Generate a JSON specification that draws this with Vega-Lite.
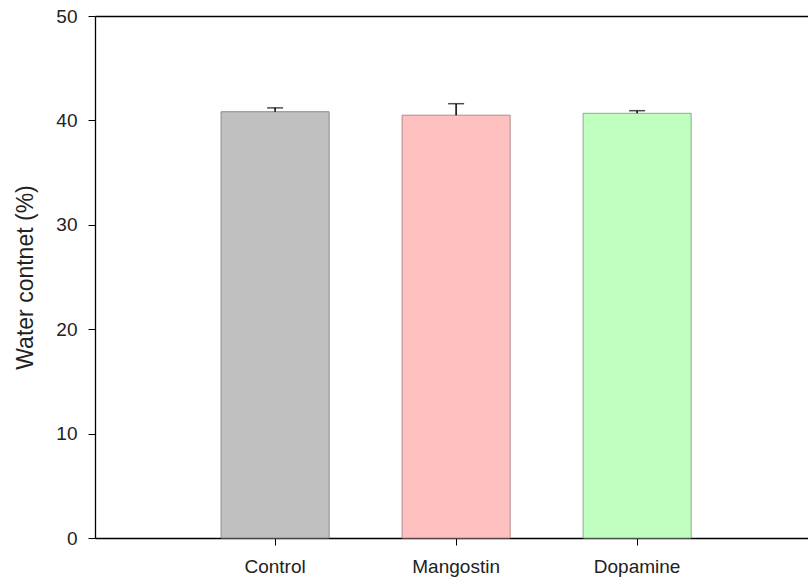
{
  "$schema": "https://vega.github.io/schema/vega-lite/v6.json",
  "width": 713,
  "height": 522,
  "autosize": "none",
  "padding": {"left": 95, "top": 16, "right": 0, "bottom": 46},
  "background": "white",
  "config": {
    "view": {"stroke": null},
    "font": "Liberation Sans",
    "axis": {"labelFont": "Liberation Sans", "titleFont": "Liberation Sans", "labelColor": "#222", "titleColor": "#222", "domainColor": "black", "tickColor": "black", "grid": false}
  },
  "data": {
    "values": [
      {"group": "Control", "value": 40.83, "upper": 41.2},
      {"group": "Mangostin", "value": 40.5, "upper": 41.6},
      {"group": "Dopamine", "value": 40.68, "upper": 40.93}
    ]
  },
  "layer": [
    {
      "mark": {"type": "bar", "strokeWidth": 1},
      "encoding": {
        "x": {
          "field": "group", "type": "nominal", "sort": null,
          "scale": {"paddingInner": 0.403, "paddingOuter": 0.671, "align": 0.519},
          "axis": {"title": null, "orient": "bottom", "labelAngle": 0, "labelFontSize": 19, "tickSize": 7, "labelPadding": 12, "domainWidth": 1.3}
        },
        "y": {
          "field": "value", "type": "quantitative",
          "scale": {"domain": [0, 50], "nice": false},
          "axis": {"title": "Water contnet (%)", "values": [0, 10, 20, 30, 40, 50], "labelFontSize": 19, "titleFontSize": 23, "titleFontWeight": "normal", "tickSize": 7, "labelPadding": 11, "titlePadding": 18, "domainWidth": 1.3}
        },
        "color": {
          "field": "group", "type": "nominal", "legend": null,
          "scale": {"domain": ["Control", "Mangostin", "Dopamine"], "range": ["#c0c0c0", "#ffc0c0", "#c0ffc0"]}
        },
        "stroke": {
          "field": "group", "type": "nominal", "legend": null,
          "scale": {"domain": ["Control", "Mangostin", "Dopamine"], "range": ["#8a8a8a", "#b08a8a", "#8aaa8a"]}
        }
      }
    },
    {
      "mark": {"type": "rule", "color": "black", "strokeWidth": 1.5},
      "encoding": {
        "x": {"field": "group", "type": "nominal", "sort": null, "axis": null},
        "y": {"field": "value", "type": "quantitative"},
        "y2": {"field": "upper"}
      }
    },
    {
      "mark": {"type": "tick", "color": "black", "thickness": 1.5, "size": 16, "orient": "horizontal"},
      "encoding": {
        "x": {
          "field": "group", "type": "nominal", "sort": null,
          "axis": {"orient": "top", "title": null, "labels": false, "ticks": false, "domainWidth": 1.3, "domainColor": "black"}
        },
        "y": {"field": "upper", "type": "quantitative"}
      }
    }
  ]
}
